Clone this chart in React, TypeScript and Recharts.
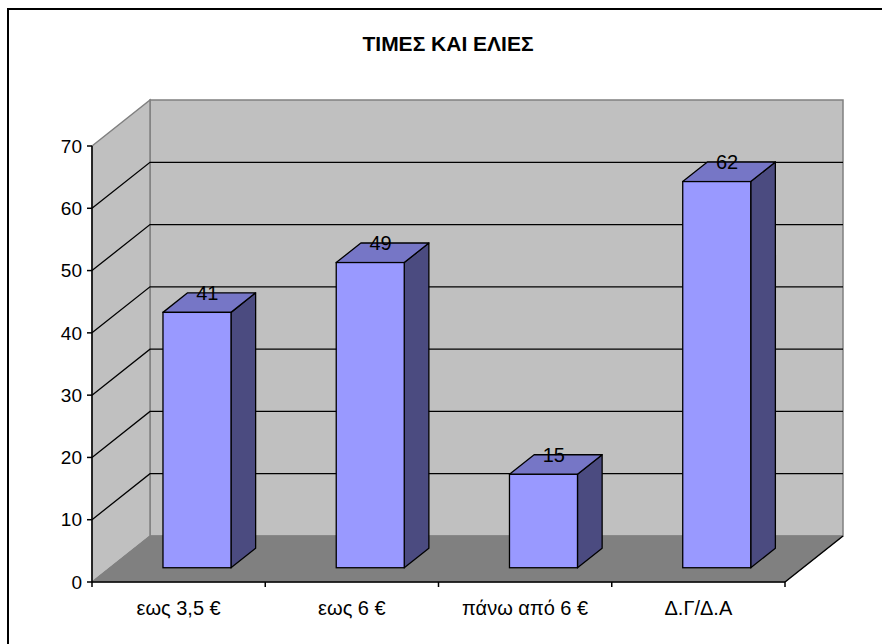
import React from "react";
import * as R from "recharts";

const { BarChart, Bar, XAxis, YAxis } = R;

const title = "ΤΙΜΕΣ ΚΑΙ ΕΛΙΕΣ";
const categories = ["εως 3,5 €", "εως 6 €", "πάνω από 6 €", "Δ.Γ/Δ.Α"];
const values = [41, 49, 15, 62];
const yTicks = [0, 10, 20, 30, 40, 50, 60, 70];

const data = categories.map((name, i) => ({ name, value: values[i] }));

// 3D look: how far the back wall sits behind the front plane
const DEPTH_X = 58;
const DEPTH_Y = 46;
const FRONT = 0.31; // bar front face depth (fraction of floor depth)
const BACK = 0.735; // bar back face depth

const FONT = "'Liberation Sans', Arial, sans-serif";

const usePlotAreaSafe: () => any = (R as any)["usePlotArea"] || (() => null);

function Walls() {
  const area = usePlotAreaSafe() || { x: 92, y: 146, width: 693, height: 436 };
  const { x, y, width, height } = area;
  const bottom = y + height;
  const right = x + width;
  const yMax = yTicks[yTicks.length - 1];
  const toY = (v: number) => bottom - (v / yMax) * height;
  const bx = x + DEPTH_X;
  const bRight = right + DEPTH_X;
  const band = width / categories.length;

  return (
    <g>
      <rect x={8} y={9} width={900} height={700} fill="none" stroke="#000" strokeWidth={2} />
      <text
        x={448}
        y={51}
        textAnchor="middle"
        fontFamily={FONT}
        fontWeight="bold"
        fontSize={21}
        fill="#000"
      >
        {title}
      </text>
      {/* back wall */}
      <rect
        x={bx}
        y={y - DEPTH_Y}
        width={width}
        height={height}
        fill="#C0C0C0"
        stroke="#808080"
        strokeWidth={1.5}
      />
      {/* side wall */}
      <polygon
        points={`${x},${y} ${bx},${y - DEPTH_Y} ${bx},${bottom - DEPTH_Y} ${x},${bottom}`}
        fill="#C0C0C0"
        stroke="#808080"
        strokeWidth={1.5}
      />
      {/* floor */}
      <polygon
        points={`${x},${bottom} ${right},${bottom} ${bRight},${bottom - DEPTH_Y} ${bx},${bottom - DEPTH_Y}`}
        fill="#808080"
        stroke="#808080"
        strokeWidth={1}
      />
      <line x1={right} y1={bottom} x2={bRight} y2={bottom - DEPTH_Y} stroke="#000" strokeWidth={1.5} />
      {/* grid lines */}
      {yTicks
        .filter((v) => v > 0 && v < yMax)
        .map((v) => (
          <polyline
            key={v}
            points={`${x},${toY(v)} ${bx},${toY(v) - DEPTH_Y} ${bRight},${toY(v) - DEPTH_Y}`}
            fill="none"
            stroke="#000"
            strokeWidth={1.3}
          />
        ))}
      {/* category boundary ticks */}
      {Array.from({ length: categories.length + 1 }, (_, i) => (
        <line
          key={i}
          x1={x + i * band}
          y1={bottom}
          x2={x + i * band}
          y2={bottom + 5}
          stroke="#000"
          strokeWidth={1.5}
        />
      ))}
    </g>
  );
}

function Bar3D(props: any) {
  const { x, y, width, height, payload } = props;
  if (x == null || height == null) return null;
  const fx = x + FRONT * DEPTH_X;
  const top = y - FRONT * DEPTH_Y;
  const bot = y + height - FRONT * DEPTH_Y;
  const dx = (BACK - FRONT) * DEPTH_X;
  const dy = (BACK - FRONT) * DEPTH_Y;
  return (
    <g>
      <polygon
        points={`${fx + width},${top} ${fx + width + dx},${top - dy} ${fx + width + dx},${bot - dy} ${fx + width},${bot}`}
        fill="#4B4B80"
        stroke="#000"
        strokeWidth={1.3}
        strokeLinejoin="round"
      />
      <polygon
        points={`${fx},${top} ${fx + width},${top} ${fx + width + dx},${top - dy} ${fx + dx},${top - dy}`}
        fill="#7676C6"
        stroke="#000"
        strokeWidth={1.3}
        strokeLinejoin="round"
      />
      <rect x={fx} y={top} width={width} height={bot - top} fill="#9999FF" stroke="#000" strokeWidth={1.3} />
      <text
        x={fx + width / 2 + dx / 2 - 2}
        y={top - dy}
        dy="0.36em"
        textAnchor="middle"
        fontFamily={FONT}
        fontSize={20}
        fill="#000"
      >
        {payload?.value}
      </text>
    </g>
  );
}

export default function App() {
  return (
    <div style={{ position: "absolute", left: 0, top: 0, width: 882, height: 644, background: "#fff" }}>
      <BarChart
        width={882}
        height={644}
        data={data}
        margin={{ top: 146, right: 97, bottom: 32, left: 32 }}
      >
        <Walls />
        <XAxis
          dataKey="name"
          height={30}
          axisLine={{ stroke: "#000", strokeWidth: 1.5 }}
          tickLine={false}
          tickSize={6}
          tickMargin={13}
          interval={0}
          tick={{ fill: "#000", fontSize: 20, fontFamily: FONT }}
        />
        <YAxis
          width={60}
          domain={[0, 70]}
          ticks={yTicks}
          interval={0}
          allowDataOverflow
          axisLine={{ stroke: "#000", strokeWidth: 1.5 }}
          tickLine={{ stroke: "#000", strokeWidth: 1.5 }}
          tickSize={5}
          tickMargin={5}
          tick={{ fill: "#000", fontSize: 19, fontFamily: FONT }}
        />
        <Bar dataKey="value" barSize={68} shape={<Bar3D />} isAnimationActive={false} />
      </BarChart>
    </div>
  );
}
